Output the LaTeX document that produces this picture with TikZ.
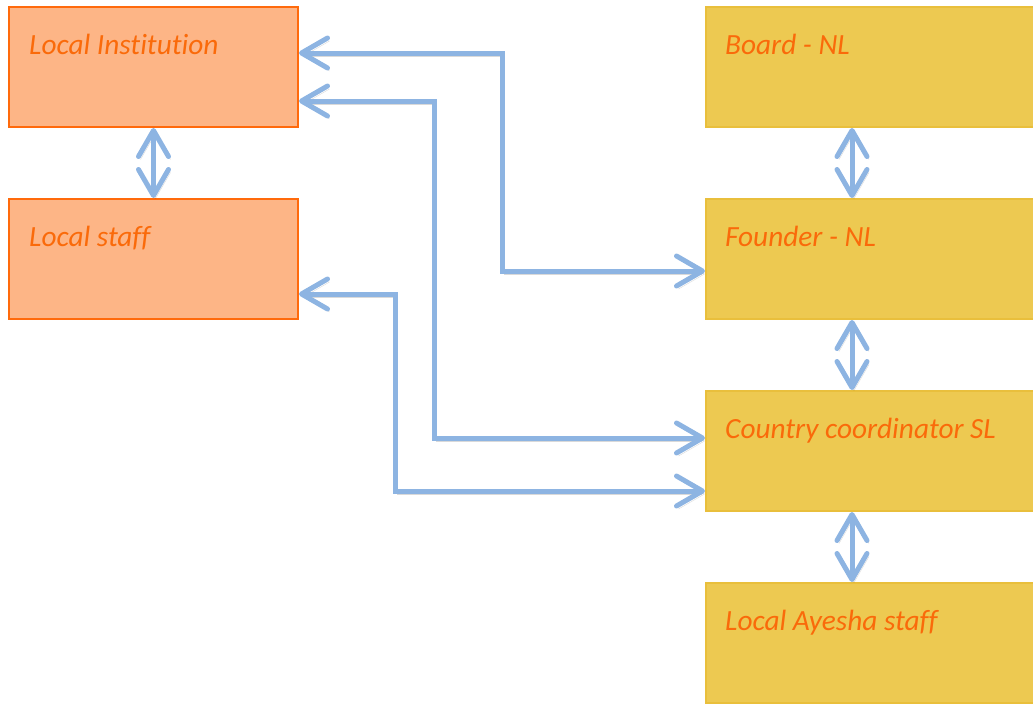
\documentclass[tikz,border=0pt]{standalone}
\usepackage{fontspec}
\setmainfont{Carlito}[Ligatures={NoCommon}]
\usetikzlibrary{arrows.meta}
\definecolor{orfill}{HTML}{FDB586}
\definecolor{ordraw}{HTML}{FF6A0C}
\definecolor{yefill}{HTML}{EDC951}
\definecolor{yedraw}{HTML}{E9BF3C}
\definecolor{txtor}{HTML}{FA6A0A}
\definecolor{arblue}{HTML}{8DB4E2}
\tikzset{
  orbox/.style={draw=ordraw, fill=orfill, line width=2pt, minimum width=289pt, minimum height=120pt, anchor=north west, inner sep=0pt},
  yebox/.style={draw=yedraw, fill=yefill, line width=2pt, minimum width=330pt, minimum height=120pt, anchor=north west, inner sep=0pt},
  lbl/.style={text=txtor, font=\itshape\fontsize{29.3}{33}\selectfont, anchor=base west, inner sep=0pt},
  tip/.tip={Straight Barb[length=26pt, width=30pt, round]},
  conn/.style={line width=5pt, draw=arblue, line join=miter, {tip}-{tip},
    preaction={draw=black, opacity=0.15, transform canvas={shift={(2pt,-3pt)}}}},
}
\begin{document}
\begin{tikzpicture}[x=1pt,y=-1pt]
\useasboundingbox (0,0) rectangle (1033,704);
\clip (0,0) rectangle (1033,704);
\node[orbox] (li) at (8,6) {};
\node[orbox] (ls) at (8,198) {};
\node[yebox] (bo) at (705,6) {};
\node[yebox] (fo) at (705,198) {};
\node[yebox] (cc) at (705,390) {};
\node[yebox] (la) at (705,582) {};
\node[lbl] (lit) at (29,54) {Local Institution};
\node[lbl] (lst) at (29,246) {Local staff};
\node[lbl] (bot) at (725,54) {Board - NL};
\node[lbl] (fot) at (725,246) {Founder - NL};
\node[lbl] (cct) at (725,438) {Country coordinator SL};
\node[lbl] (lat) at (725,630) {Local Ayesha staff};
\draw[conn] (li.south) -- (ls.north);
\draw[conn] ([xshift=-19pt]bo.south) -- ([xshift=-19pt]fo.north);
\draw[conn] ([xshift=-19pt]fo.south) -- ([xshift=-19pt]cc.north);
\draw[conn] ([xshift=-19pt]cc.south) -- ([xshift=-19pt]la.north);
\draw[conn] ([yshift=14pt]li.east) -- ++(203,0) |- ([yshift=-12pt]fo.west);
\draw[conn] ([yshift=-34pt]li.east) -- ++(135,0) |- ([yshift=13pt]cc.west);
\draw[conn] ([yshift=-35pt]ls.east) -- ++(96,0) |- ([yshift=-40pt]cc.west);
\end{tikzpicture}
\end{document}
